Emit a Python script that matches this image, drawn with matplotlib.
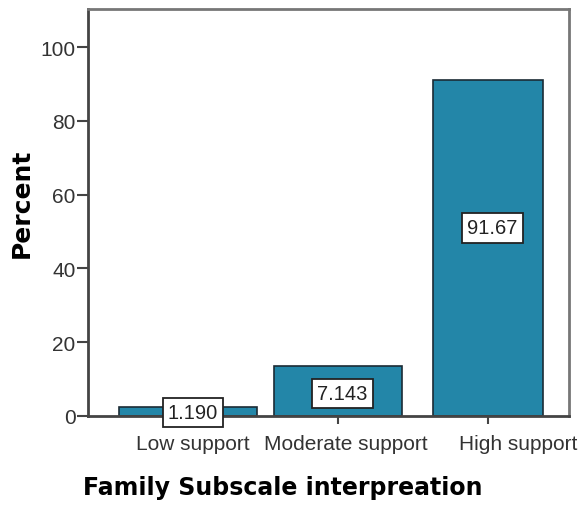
import matplotlib
matplotlib.use("Agg")
import matplotlib.pyplot as plt
from matplotlib.transforms import ScaledTranslation

# values
categories = ["Low support", "Moderate support", "High support"]
bar_heights = [2.4, 13.5, 91.0]
bar_labels = ["1.190", "7.143", "91.67"]
y_ticks = [0, 20, 40, 60, 80, 100]

# styling
bar_widths = [0.92, 0.85, 0.73]
label_frac = [0.40, 0.46, 0.56]
tick_shift_px = [4, 8, 30]
bar_color = "#2386a8"
edge_color = "#1b2b35"

plt.rcParams["font.family"] = ["Liberation Sans", "DejaVu Sans"]

fig = plt.figure(figsize=(5.81, 5.06), dpi=100)
ax = fig.add_axes([0.1515, 0.176, 0.8275, 0.804])

x = list(range(len(categories)))
ax.bar(x, bar_heights, width=bar_widths, color=bar_color,
       edgecolor=edge_color, linewidth=1.2, zorder=2)

for xi, h, lab, f in zip(x, bar_heights, bar_labels, label_frac):
    ax.text(xi + 0.03, h * f, lab, ha="center", va="center", fontsize=14.5,
            color="#222222", zorder=3,
            bbox=dict(boxstyle="square,pad=0.25", fc="white",
                      ec="#222222", lw=1.3))

ax.set_xlim(-0.67, 2.54)
ax.set_ylim(0, 110.3)
ax.set_yticks(y_ticks)
ax.set_xticks(x)
ax.set_xticklabels(categories, fontsize=15, color="#333333")
ax.tick_params(axis="y", labelsize=15, labelcolor="#333333",
               length=8, width=1.5, color="#444444", pad=1)
ax.tick_params(axis="x", length=6, width=1.5, color="#444444", pad=7)

for lbl, dx in zip(ax.get_xticklabels(), tick_shift_px):
    lbl.set_transform(lbl.get_transform() +
                      ScaledTranslation(dx / 100, 0, fig.dpi_scale_trans))

for side in ["left", "bottom"]:
    ax.spines[side].set_color("#444444")
    ax.spines[side].set_linewidth(2)
for side in ["top", "right"]:
    ax.spines[side].set_color("#777777")
    ax.spines[side].set_linewidth(2)

ax.set_ylabel("Percent", fontsize=18, fontweight="bold",
              family="DejaVu Sans")
ax.yaxis.set_label_coords(-0.137, 0.526)
ax.set_xlabel("Family Subscale interpreation", fontsize=17,
              fontweight="bold", family="DejaVu Sans")
ax.xaxis.set_label_coords(0.405, -0.174)
ax.xaxis.label.set_va("center")
ax.yaxis.label.set_va("center")

fig.savefig("out.png", dpi=100)
